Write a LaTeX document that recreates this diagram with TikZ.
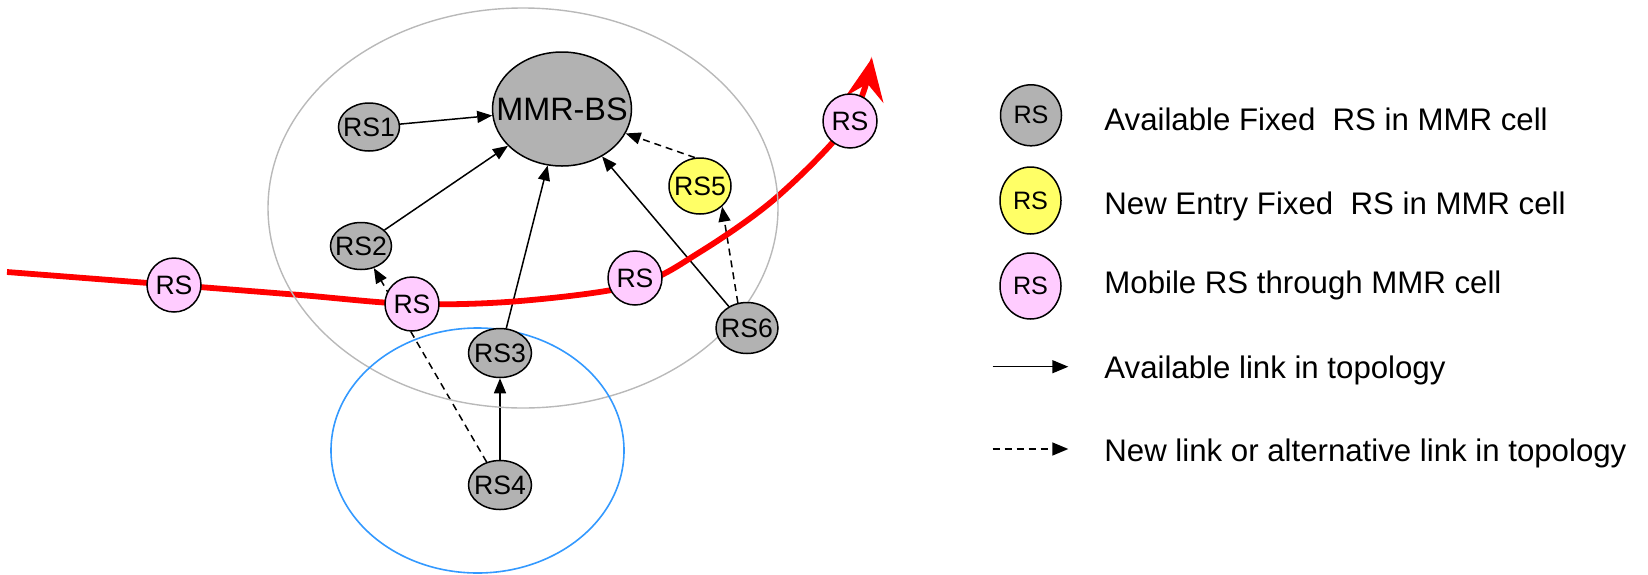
\documentclass[tikz,border=0pt]{standalone}
\usepackage{fontspec}
\usepackage{graphicx}
\setmainfont{Liberation Sans}
\usetikzlibrary{shapes.geometric,arrows.meta}
\pgfdeclarelayer{bg}\pgfdeclarelayer{mid}\pgfsetlayers{bg,mid,main}
\definecolor{rsgray}{RGB}{178,178,178}
\definecolor{rsyellow}{RGB}{255,255,102}
\definecolor{rspink}{RGB}{255,204,255}
\definecolor{cellgray}{RGB}{185,185,185}
\definecolor{cellblue}{RGB}{51,153,255}
\newcommand\mk[1]{\makebox[0pt]{#1}}
\begin{document}
\begin{tikzpicture}[x=0.5pt,y=-0.5pt,
  rsnode/.style={ellipse, draw=black, line width=0.75pt, inner sep=0pt, font=\fontsize{13.3}{13.3}\selectfont},
  fixed/.style={rsnode, fill=rsgray},
  newfixed/.style={rsnode, fill=rsyellow},
  mobile/.style={rsnode, fill=rspink, minimum width=27pt, minimum height=27pt},
  legnode/.style={rsnode, minimum width=30.5pt, minimum height=32pt, font=\fontsize{12.6}{12.6}\selectfont},
  legtext/.style={anchor=base west, inner sep=0pt, font=\fontsize{15.6}{16}\selectfont},
  link/.style={line width=0.75pt, -{Triangle[length=7.5pt,width=6pt]}},
  legarrow/.style={line width=0.75pt, -{Triangle[length=8pt,width=6.5pt]}},
  newlink/.style={dash pattern=on 3.5pt off 2.5pt},
  redpath/.style={line width=2.9pt, red, -{Stealth[length=21pt,width=19pt,inset=8pt]}},
  cell/.style={ellipse, draw=cellgray, line width=0.7pt, inner sep=0pt},
  subcell/.style={ellipse, draw=cellblue, line width=0.8pt, inner sep=0pt}
]
\useasboundingbox (0,0) rectangle (1648,574);

% cells
\node[cell, minimum width=255pt, minimum height=200pt] (cellA) at (523,208) {};
\node[subcell, minimum width=146.5pt, minimum height=122.5pt] (cellB) at (477.5,450.5) {};

% nodes
\node[fixed, minimum width=69.5pt, minimum height=57pt, font=\fontsize{16.2}{16}\selectfont] (MMR) at (562,109) {\mk{MMR-BS}};
\node[fixed, minimum width=30.5pt, minimum height=24pt] (RS1) at (369,127) {\mk{RS1}};
\node[fixed, minimum width=30.5pt, minimum height=23.5pt] (RS2) at (361,246) {\mk{RS2}};
\node[fixed, minimum width=31.5pt, minimum height=24.5pt] (RS3) at (500,353) {\mk{RS3}};
\node[fixed, minimum width=31.5pt, minimum height=24.5pt] (RS4) at (500,485) {\mk{RS4}};
\node[newfixed, minimum width=31pt, minimum height=28pt] (RS5) at (700,186) {\mk{RS5}};
\node[fixed, minimum width=31pt, minimum height=25.5pt] (RS6) at (747,328) {\mk{RS6}};
\node[mobile] (M1) at (174,285) {\mk{RS}};
\node[mobile] (M2) at (412,304) {\mk{RS}};
\node[mobile] (M3) at (635,278) {\mk{RS}};
\node[mobile] (M4) at (850,121) {\mk{RS}};

% links
\begin{pgfonlayer}{bg}
\draw[link] (RS1) -- (MMR);
\draw[link] (RS2) -- (MMR);
\draw[link] (RS3) -- (MMR);
\draw[link] (RS6) -- (MMR);
\draw[link] (RS4) -- (RS3);
\draw[link, newlink] (RS5.100) -- (MMR.-21);
\draw[link, newlink] (RS6.110) -- (RS5.-43);
\draw[link, newlink] (RS4) -- (RS2);
\end{pgfonlayer}

% mobile trajectory
\coordinate (r0) at (7,272);
\coordinate (rt) at (872,58);
\begin{pgfonlayer}{mid}
\draw[redpath] plot[smooth, tension=0.55] coordinates {(r0) (M1.center) (300,295) (M2.center) (520,301) (635,285) (700,252) (777,197) (M4.center) (rt)};
\end{pgfonlayer}

% legend
\node[legnode, fill=rsgray, minimum height=30.5pt] (L1) at (1031,115.3) {\mk{RS}};
\node[legnode, fill=rsyellow, minimum height=33.5pt] (L2) at (1030.5,200.5) {\mk{RS}};
\node[legnode, fill=rspink, minimum height=33pt] (L3) at (1030.5,286) {\mk{RS}};
\node[legtext] (T1) at (1104,130.7) {Available Fixed\ \ RS in MMR cell};
\node[legtext] (T2) at (1104,214) {New Entry Fixed\ \ RS in MMR cell};
\node[legtext] (T3) at (1104,293.3) {Mobile RS through MMR cell};
\node[legtext] (T4) at (1104,378.3) {Available link in topology};
\node[legtext] (T5) at (1104,461.7) {New link or alternative link in topology};
\coordinate (A1s) at (992.7,366.7);
\coordinate (A1e) at (1068.3,366.7);
\coordinate (A2s) at (992.7,449);
\coordinate (A2e) at (1068.3,449);
\draw[legarrow] (A1s) -- (A1e);
\draw[legarrow, newlink] (A2s) -- (A2e);
\end{tikzpicture}
\end{document}
